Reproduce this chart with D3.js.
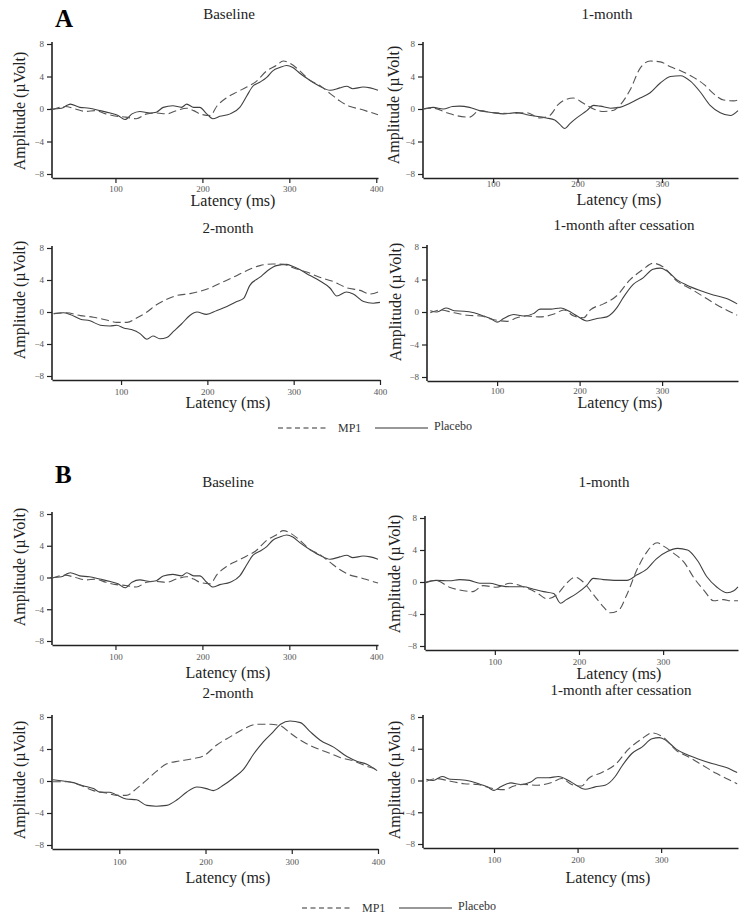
<!DOCTYPE html>
<html lang="en">
<head>
<meta charset="UTF-8">
<title>ERP amplitude</title>
<script src="https://cdn.jsdelivr.net/npm/d3@7"></script>
<style>
  body { margin: 0; background: #fff; }
  svg { display: block; }
  svg text { font-family: "Liberation Serif", "Times New Roman", "DejaVu Serif", serif; }
</style>
</head>
<body>
<script>
// values: [latency ms, amplitude µV]
let amplitudeTicks = [-8, -4, 0, 4, 8];
let latencyTicksLong = [100, 200, 300, 400];
let latencyTicksShort = [100, 200, 300];
let seriesNames = ['MP1', 'Placebo'];

let baselinePlacebo = [[25,0],[38,0.1],[45,0.5],[48,0.6],[59,0.2],[70,0.1],[82,-0.2],[94,-0.5],[103,-0.8],[111,-1.3],[119,-0.6],[128,-0.3],[140,-0.5],[147,-0.4],[155,0.2],[166,0.4],[176,0.2],[182,0.6],[190,0.2],[197,0.2],[205,-0.6],[212,-1.2],[220,-0.9],[232,-0.6],[243,0.2],[251,1.6],[258,2.8],[266,3.3],[274,3.9],[281,4.7],[289,5.1],[297,5.35],[304,5.1],[312,4.4],[324,3.5],[335,2.8],[347,2.3],[358,2.6],[366,2.8],[373,2.5],[385,2.7],[393,2.6],[402,2.3]];
let baselineMP1 = [[27,-0.1],[42,0.3],[54,0],[66,-0.3],[77,-0.2],[89,-0.6],[101,-0.9],[112,-1.0],[124,-1.2],[136,-0.6],[147,-0.5],[159,-0.6],[170,-0.2],[182,0.1],[190,-0.2],[197,-0.6],[209,-0.8],[217,0.4],[228,1.4],[240,2.1],[251,2.7],[262,3.4],[274,4.7],[285,5.35],[293,5.9],[301,5.6],[312,4.7],[324,3.5],[335,2.9],[347,1.9],[358,1.0],[370,0.3],[381,0],[393,-0.4],[402,-0.7]];

let aMonth1Placebo = [[17,0],[29,0.2],[41,0],[52,0.3],[60,0.35],[72,0.2],[84,-0.2],[100,-0.45],[112,-0.6],[128,-0.45],[140,-0.7],[151,-0.9],[163,-1.1],[173,-1.35],[179,-1.9],[185,-2.4],[191,-1.8],[199,-1.1],[211,-0.2],[219,0.45],[227,0.35],[239,0.1],[250,0.2],[262,0.7],[274,1.35],[286,2.0],[298,3.2],[310,4.0],[322,4.1],[334,3.4],[346,2.0],[357,0.45],[369,-0.45],[381,-0.8],[390,-0.2]];
let aMonth1MP1 = [[17,0],[29,0.1],[45,-0.45],[56,-0.8],[72,-1.0],[84,-0.2],[100,-0.45],[120,-0.55],[140,-0.45],[155,-1.1],[167,-0.8],[177,0.55],[187,1.2],[195,1.35],[207,0.7],[219,0],[231,-0.3],[243,-0.15],[250,0.45],[262,2.3],[274,5.0],[286,5.9],[298,5.8],[310,5.2],[322,4.7],[334,4.1],[350,3.0],[361,1.9],[373,1.1],[385,1.0],[390,1.1]];

let aMonth2Placebo = [[22,-0.2],[33,-0.1],[41,-0.3],[53,-0.9],[64,-1.1],[76,-1.65],[87,-1.75],[95,-1.65],[103,-2.0],[112,-2.2],[122,-2.7],[130,-3.4],[137,-3.0],[145,-3.35],[153,-3.2],[161,-2.4],[170,-1.5],[180,-0.4],[188,0],[199,-0.3],[211,0.2],[222,0.65],[234,1.3],[242,1.7],[249,3.3],[261,4.35],[269,5.1],[280,5.8],[292,5.95],[300,5.65],[307,5.3],[319,4.55],[330,3.9],[342,3.0],[350,2.0],[361,2.5],[369,2.25],[381,1.3],[392,1.1],[400,1.2]];
let aMonth2MP1 = [[22,-0.2],[37,-0.1],[53,-0.45],[68,-0.65],[83,-1.0],[95,-1.3],[107,-1.3],[118,-0.75],[130,0],[141,0.9],[153,1.6],[164,2.05],[180,2.3],[192,2.6],[203,3.0],[215,3.6],[230,4.35],[246,5.2],[261,5.8],[276,6.0],[288,5.95],[300,5.5],[315,5.0],[330,4.35],[346,3.8],[361,3.05],[377,2.7],[388,2.25],[400,2.6]];

let afterPlacebo = [[19,0.15],[27,0],[38,0.5],[48,0.15],[60,0.1],[72,-0.1],[84,-0.5],[92,-0.8],[100,-1.25],[108,-0.8],[120,-0.3],[132,-0.5],[144,-0.2],[152,0.35],[165,0.35],[177,0.5],[189,0],[197,-0.5],[209,-1.1],[221,-0.8],[233,-0.6],[245,0.5],[253,1.8],[265,3.4],[277,4.2],[289,5.25],[298,5.4],[306,5.05],[318,3.95],[330,3.3],[346,2.65],[362,2.1],[378,1.65],[391,1.0]];
let afterMP1 = [[19,-0.1],[31,0.25],[48,-0.1],[64,-0.4],[80,-0.5],[96,-0.95],[112,-1.15],[124,-0.7],[136,-0.5],[152,-0.6],[169,-0.25],[181,0.25],[193,-0.5],[205,-0.7],[213,0.25],[229,1.0],[245,2.0],[261,3.95],[277,5.25],[289,6.0],[302,5.5],[318,3.8],[334,2.9],[350,1.9],[366,0.9],[378,0.25],[391,-0.4]];

let bMonth1Placebo = [[18,-0.1],[30,0.2],[46,0.15],[58,0.3],[70,0.2],[82,-0.15],[94,-0.15],[106,-0.45],[118,-0.6],[134,-0.6],[146,-0.9],[158,-1.2],[170,-1.45],[178,-2.65],[185,-2.2],[197,-1.45],[209,-0.45],[217,0.45],[229,0.3],[245,0.2],[257,0.2],[269,0.9],[281,1.65],[292,2.9],[305,3.8],[317,4.2],[329,4.0],[341,2.65],[352,0.65],[364,-0.65],[376,-1.35],[384,-1.1],[389,-0.6]];
let bMonth1MP1 = [[18,0],[30,0.2],[46,-0.65],[58,-1.0],[74,-1.2],[86,-0.45],[102,-0.65],[118,-0.15],[134,-0.6],[150,-1.35],[162,-2.1],[174,-1.55],[185,-0.2],[195,0.6],[205,0],[217,-1.55],[229,-3.1],[237,-3.85],[247,-3.55],[257,-1.55],[269,1.55],[281,3.8],[293,4.9],[301,4.45],[313,3.55],[325,2.45],[337,0.45],[349,-1.1],[360,-2.35],[372,-2.2],[380,-2.35],[389,-2.35]];

let bMonth2Placebo = [[23,0.15],[35,0],[47,-0.2],[58,-0.6],[70,-0.95],[78,-1.4],[89,-1.4],[97,-1.75],[108,-2.25],[120,-2.35],[132,-3.05],[143,-3.15],[155,-3.05],[167,-2.35],[178,-1.4],[190,-0.75],[201,-0.95],[209,-1.2],[221,-0.5],[232,0.35],[244,1.45],[256,3.4],[267,4.9],[279,6.2],[287,7.1],[298,7.5],[310,7.3],[321,6.2],[333,5.1],[349,4.2],[364,3.05],[376,2.45],[387,2.1],[399,1.3]];
let bMonth2MP1 = [[23,-0.1],[39,-0.1],[54,-0.5],[70,-1.2],[85,-1.5],[97,-1.8],[108,-1.8],[120,-0.95],[132,0.15],[143,1.2],[155,2.15],[170,2.5],[186,2.8],[198,3.15],[213,4.5],[229,5.55],[244,6.5],[260,7.1],[275,7.1],[287,6.9],[298,6.0],[310,5.1],[325,4.25],[341,3.6],[356,2.95],[372,2.5],[387,1.85],[399,1.45]];

let width = 744;
let height = 920;

let svg = d3.select('body')
  .append('svg')
  .attr('width', width)
  .attr('height', height);

// layout of each small chart on the page
let panels = [
  {title: 'Baseline', left: 52, right: 378, top: 44, bottom: 174, domain: [27, 402], ticks: latencyTicksLong, tickOff: 11,
   titleX: 229, titleY: 19, labelX: 233, labelY: 206, ampX: 25, ampY: 111, mp1: baselineMP1, placebo: baselinePlacebo},
  {title: '1-month', left: 423, right: 738, top: 44, bottom: 174, domain: [17, 390], ticks: latencyTicksShort, tickOff: 6,
   titleX: 607, titleY: 19, labelX: 619, labelY: 205, ampX: 399, ampY: 105, mp1: aMonth1MP1, placebo: aMonth1Placebo},
  {title: '2-month', left: 52, right: 380, top: 248, bottom: 376, domain: [20, 400], ticks: latencyTicksLong, tickOff: 12,
   titleX: 228, titleY: 233, labelX: 228, labelY: 408, ampX: 25, ampY: 300, mp1: aMonth2MP1, placebo: aMonth2Placebo},
  {title: '1-month after cessation', left: 427, right: 738, top: 247, bottom: 377, domain: [15, 392], ticks: latencyTicksShort, tickOff: 10,
   titleX: 624, titleY: 230, labelX: 620, labelY: 408, ampX: 401, ampY: 302, mp1: afterMP1, placebo: afterPlacebo},
  {title: 'Baseline', left: 52, right: 378, top: 514, bottom: 641, domain: [27, 402], ticks: latencyTicksLong, tickOff: 12,
   titleX: 228, titleY: 487, labelX: 228, labelY: 678, ampX: 25, ampY: 567, mp1: baselineMP1, placebo: baselinePlacebo},
  {title: '1-month', left: 425, right: 738, top: 518, bottom: 646, domain: [17, 389], ticks: latencyTicksShort, tickOff: 12,
   titleX: 604, titleY: 487, labelX: 619, labelY: 679, ampX: 400, ampY: 574, mp1: bMonth1MP1, placebo: bMonth1Placebo},
  {title: '2-month', left: 52, right: 378, top: 717, bottom: 845, domain: [22, 400], ticks: latencyTicksLong, tickOff: 13,
   titleX: 228, titleY: 698, labelX: 228, labelY: 883, ampX: 25, ampY: 780, mp1: bMonth2MP1, placebo: bMonth2Placebo},
  {title: '1-month after cessation', left: 423, right: 738, top: 717, bottom: 844, domain: [15, 392], ticks: latencyTicksShort, tickOff: 12,
   titleX: 621, titleY: 695, labelX: 608, labelY: 883, ampX: 400, ampY: 780, mp1: afterMP1, placebo: afterPlacebo}
];

let legends = [
  {x: 278, y: 428},
  {x: 302, y: 908}
];

let letters = [
  {text: 'A', x: 55, y: 27},
  {text: 'B', x: 55, y: 483}
];

function renderPanel(p) {
  let x = d3.scaleLinear().domain(p.domain).range([p.left, p.right]);
  let y = d3.scaleLinear().domain([-8, 8]).range([p.bottom, p.top]);
  let axisY = p.bottom + 4;
  let g = svg.append('g');

  let xAxis = d3.axisBottom(x)
    .tickValues(p.ticks)
    .tickFormat(d3.format('d'))
    .tickSize(5)
    .tickSizeOuter(0);

  let gx = g.append('g')
    .attr('class', 'x-axis')
    .attr('transform', 'translate(0,' + axisY + ')')
    .call(xAxis);
  gx.select('.domain').attr('stroke', '#222').attr('stroke-width', 1.6);
  gx.selectAll('.tick line').attr('stroke', '#222').attr('stroke-width', 1.2);
  gx.selectAll('.tick text')
    .attr('y', p.tickOff - 3)
    .attr('fill', '#555')
    .style('font-size', '9px');

  let yAxis = d3.axisLeft(y)
    .tickValues(amplitudeTicks)
    .tickSize(5)
    .tickPadding(3)
    .tickSizeOuter(0);

  let gy = g.append('g')
    .attr('class', 'y-axis')
    .attr('transform', 'translate(' + p.left + ',0)')
    .call(yAxis);
  gy.select('.domain').remove();
  gy.append('line')
    .attr('x1', 0).attr('x2', 0)
    .attr('y1', y(8) - 2).attr('y2', axisY)
    .attr('stroke', '#222')
    .attr('stroke-width', 1.6);
  gy.selectAll('.tick line').attr('stroke', '#222').attr('stroke-width', 1.2);
  gy.selectAll('.tick text')
    .attr('fill', '#555')
    .style('font-size', '9px');

  let line = d3.line()
    .x(d => x(d[0]))
    .y(d => y(d[1]))
    .curve(d3.curveMonotoneX);

  g.append('path')
    .datum(p.placebo)
    .attr('fill', 'none')
    .attr('stroke', '#404040')
    .attr('stroke-width', 1.1)
    .attr('d', line);

  g.append('path')
    .datum(p.mp1)
    .attr('fill', 'none')
    .attr('stroke', '#555')
    .attr('stroke-width', 1.1)
    .attr('stroke-dasharray', '8,4')
    .attr('d', line);

  g.append('text')
    .attr('x', p.titleX)
    .attr('y', p.titleY)
    .attr('text-anchor', 'middle')
    .style('font-size', '15px')
    .attr('fill', '#222')
    .text(p.title);

  g.append('text')
    .attr('x', p.labelX)
    .attr('y', p.labelY)
    .attr('text-anchor', 'middle')
    .style('font-size', '16px')
    .attr('fill', '#222')
    .text('Latency (ms)');

  g.append('text')
    .attr('transform', 'translate(' + p.ampX + ',' + p.ampY + ') rotate(-90)')
    .attr('text-anchor', 'middle')
    .style('font-size', '16px')
    .attr('fill', '#222')
    .text('Amplitude (\u00b5Volt)');
}

function renderLegend(l) {
  let g = svg.append('g').attr('transform', 'translate(' + l.x + ',' + l.y + ')');
  g.append('line')
    .attr('x1', 0).attr('x2', 50).attr('y1', 0).attr('y2', 0)
    .attr('stroke', '#333').attr('stroke-width', 1.1)
    .attr('stroke-dasharray', '5,3.5');
  g.append('text')
    .attr('x', 60).attr('y', 4)
    .style('font-size', '12px')
    .attr('fill', '#333')
    .text(seriesNames[0]);
  g.append('line')
    .attr('x1', 97).attr('x2', 150).attr('y1', 0).attr('y2', 0)
    .attr('stroke', '#333').attr('stroke-width', 1.1);
  g.append('text')
    .attr('x', 156).attr('y', 2)
    .style('font-size', '12px')
    .attr('fill', '#333')
    .text(seriesNames[1]);
}

panels.forEach(renderPanel);
legends.forEach(renderLegend);

svg.selectAll('text.letter')
  .data(letters)
  .enter()
  .append('text')
  .attr('class', 'letter')
  .attr('x', d => d.x)
  .attr('y', d => d.y)
  .style('font-size', '25px')
  .style('font-weight', 'bold')
  .attr('fill', '#000')
  .text(d => d.text);
</script>
</body>
</html>
